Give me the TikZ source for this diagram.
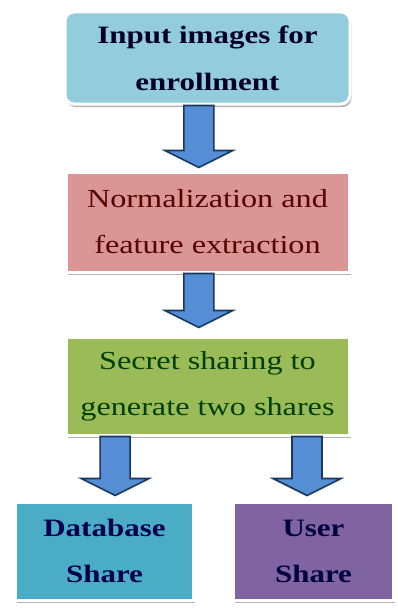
\documentclass[tikz,border=0pt]{standalone}
\usepackage{fontspec}
\setmainfont{Liberation Serif}[FakeStretch=1.24]
\usepackage{tikz}
\usetikzlibrary{positioning,shadows,calc}
\definecolor{enrollCyan}{HTML}{93CDDD}
\definecolor{enrollRed}{HTML}{D99694}
\definecolor{enrollGreen}{HTML}{9BBB59}
\definecolor{enrollAqua}{HTML}{4BACC6}
\definecolor{enrollPurple}{HTML}{8064A2}
\definecolor{arrowFill}{HTML}{558ED5}
\definecolor{arrowLine}{HTML}{17375E}

\begin{document}
\begin{tikzpicture}[
  x=1pt, y=1pt,
  stage/.style={draw=white, line width=3pt, align=center, inner sep=4pt,
    minimum width=283pt, minimum height=100pt,
    font=\fontsize{26}{46}\selectfont,
    drop shadow={shadow xshift=1.5pt, shadow yshift=-3pt, fill=black!50, opacity=0.6}},
  share/.style={stage, minimum height=98pt, font=\fontsize{25}{46}\selectfont\bfseries},
  blockarrow/.style={draw=arrowLine, fill=arrowFill, line width=1.6pt, line join=miter,
    to path={let \p1=(\tikztostart), \p2=(\tikztotarget) in
      (\x1-15pt,\y1) -- (\x1+15pt,\y1) -- (\x1+15pt,\y2+17pt) -- (\x1+34pt,\y2+17pt)
      -- (\x1,\y2) -- (\x1-34pt,\y2+17pt) -- (\x1-15pt,\y2+17pt) -- cycle}}
]
\useasboundingbox (0,0) rectangle (397,-610);
\node[stage, fill=enrollCyan, rounded corners=9pt, minimum width=285pt, minimum height=92pt,
  text=black!80!blue!70!black, font=\fontsize{25}{47}\selectfont\bfseries]
  (input) at (207.5,-58) {Input images for\\enrollment};
\node[stage, fill=enrollRed, text=red!35!black, below=65pt of input] (norm)
  {Normalization and\\feature extraction};
\node[stage, fill=enrollGreen, minimum height=98pt, text=green!25!black, below=62pt of norm] (secret)
  {Secret sharing to\\generate two shares};
\node[share, fill=enrollAqua, minimum width=178pt, text=blue!30!black,
  below=64pt of secret, xshift=-103pt] (database) {Database\\Share};
\node[share, fill=enrollPurple, minimum width=160pt, text=blue!25!black,
  below=64pt of secret, xshift=106pt] (user) {User\\Share};
% block arrows
\path[blockarrow] ($(input.south west)!0.47!(input.south east)$) to ($(norm.north)+(0,3)$);
\path[blockarrow] ($(norm.south west)!0.47!(norm.south east)$) to ($(secret.north)+(0,8)$);
\path[blockarrow] ($(secret.south west)!0.177!(secret.south east)$) to ($(database.north)+(0,5)$);
\path[blockarrow] ($(secret.south west)!0.848!(secret.south east)$) to ($(user.north)+(0,5)$);
\end{tikzpicture}
\end{document}
